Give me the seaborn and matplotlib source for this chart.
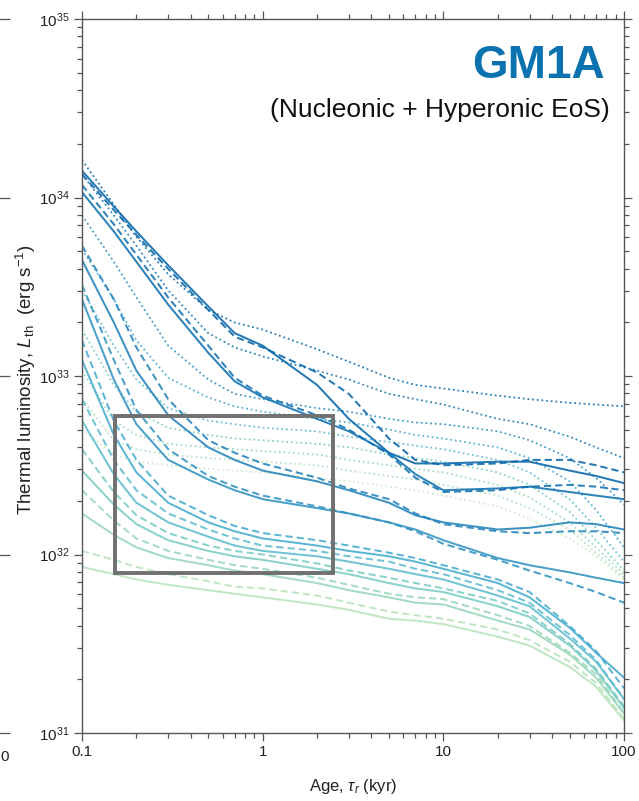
import matplotlib
matplotlib.use("Agg")
import matplotlib.pyplot as plt
import seaborn as sns
import pandas as pd
import numpy as np
from matplotlib.patches import Rectangle
from matplotlib.ticker import LogLocator, FuncFormatter, NullFormatter, NullLocator

# ---------------- data (log10 of thermal luminosity, erg/s) ----------------
ages = [0.1, 0.15, 0.2, 0.3, 0.5, 0.7, 1, 2, 3, 5, 7, 10, 20, 30, 50, 70, 100]

# solid curves (dark -> light)
solid_A = [34.15, 33.95, 33.81, 33.62, 33.39, 33.24, 33.17, 32.95, 32.76, 32.57, 32.51, 32.51, 32.52, 32.52, 32.47, 32.44, 32.40]
solid_B = [34.03, 33.81, 33.64, 33.40, 33.13, 32.97, 32.88, 32.76, 32.69, 32.57, 32.45, 32.36, 32.37, 32.38, 32.35, 32.33, 32.31]
solid_C = [33.65, 33.30, 33.03, 32.78, 32.60, 32.53, 32.47, 32.41, 32.36, 32.29, 32.22, 32.18, 32.14, 32.15, 32.18, 32.17, 32.14]
solid_D = [33.43, 32.98, 32.73, 32.53, 32.42, 32.36, 32.31, 32.26, 32.23, 32.18, 32.14, 32.08, 31.98, 31.94, 31.90, 31.87, 31.84]
solid_E = [33.09, 32.67, 32.46, 32.29, 32.18, 32.13, 32.09, 32.05, 32.02, 31.99, 31.96, 31.92, 31.84, 31.76, 31.59, 31.45, 31.31]
solid_F = [32.75, 32.45, 32.29, 32.18, 32.10, 32.05, 32.02, 31.99, 31.96, 31.92, 31.89, 31.86, 31.77, 31.71, 31.53, 31.40, 31.19]
solid_G = [32.47, 32.28, 32.17, 32.08, 32.02, 31.99, 31.97, 31.92, 31.89, 31.84, 31.81, 31.79, 31.71, 31.65, 31.49, 31.35, 31.14]
solid_H = [32.23, 32.11, 32.04, 31.98, 31.94, 31.91, 31.89, 31.84, 31.80, 31.76, 31.73, 31.72, 31.63, 31.58, 31.44, 31.31, 31.11]
solid_I = [31.93, 31.89, 31.86, 31.83, 31.80, 31.78, 31.76, 31.72, 31.69, 31.64, 31.63, 31.61, 31.54, 31.49, 31.37, 31.26, 31.07]

# dashed curves
dashed_A = [34.13, 33.93, 33.79, 33.60, 33.37, 33.22, 33.16, 33.02, 32.90, 32.65, 32.53, 32.50, 32.51, 32.53, 32.53, 32.50, 32.46]
dashed_B = [34.07, 33.85, 33.68, 33.44, 33.17, 32.99, 32.89, 32.78, 32.70, 32.56, 32.43, 32.35, 32.36, 32.38, 32.39, 32.38, 32.36]
dashed_C = [33.73, 33.43, 33.16, 32.87, 32.64, 32.57, 32.51, 32.43, 32.37, 32.31, 32.23, 32.17, 32.13, 32.12, 32.13, 32.13, 32.12]
dashed_D = [33.51, 33.09, 32.81, 32.59, 32.44, 32.38, 32.33, 32.27, 32.23, 32.18, 32.13, 32.06, 31.97, 31.91, 31.84, 31.79, 31.73]
dashed_E = [33.20, 32.75, 32.53, 32.33, 32.22, 32.16, 32.12, 32.08, 32.05, 32.01, 31.98, 31.94, 31.86, 31.79, 31.60, 31.46, 31.25]
dashed_F = [32.87, 32.53, 32.36, 32.23, 32.14, 32.09, 32.05, 32.02, 31.99, 31.96, 31.92, 31.89, 31.80, 31.73, 31.55, 31.41, 31.19]
dashed_G = [32.59, 32.35, 32.22, 32.12, 32.05, 32.02, 32.00, 31.95, 31.91, 31.87, 31.84, 31.81, 31.74, 31.67, 31.50, 31.36, 31.15]
dashed_H = [32.36, 32.19, 32.09, 32.02, 31.97, 31.94, 31.92, 31.87, 31.83, 31.78, 31.76, 31.75, 31.66, 31.60, 31.45, 31.33, 31.11]
dashed_I = [32.02, 31.97, 31.93, 31.89, 31.85, 31.82, 31.81, 31.77, 31.73, 31.68, 31.66, 31.64, 31.58, 31.52, 31.40, 31.28, 31.08]

# dotted curves
dotted_A = [34.21, 33.96, 33.78, 33.57, 33.37, 33.30, 33.26, 33.15, 33.08, 32.99, 32.95, 32.93, 32.89, 32.87, 32.85, 32.84, 32.83]
dotted_B = [34.13, 33.90, 33.73, 33.48, 33.24, 33.16, 33.11, 33.03, 32.98, 32.90, 32.87, 32.84, 32.76, 32.73, 32.66, 32.60, 32.54]
dotted_C = [33.90, 33.64, 33.44, 33.17, 32.98, 32.90, 32.87, 32.82, 32.80, 32.76, 32.74, 32.73, 32.69, 32.64, 32.54, 32.43, 32.28]
dotted_D = [33.71, 33.43, 33.20, 32.99, 32.88, 32.83, 32.80, 32.76, 32.74, 32.70, 32.67, 32.65, 32.60, 32.54, 32.41, 32.25, 32.04]
dotted_E = [33.48, 33.17, 32.98, 32.82, 32.75, 32.73, 32.71, 32.69, 32.66, 32.63, 32.61, 32.59, 32.53, 32.46, 32.31, 32.15, 31.96]
dotted_F = [33.26, 32.95, 32.80, 32.71, 32.67, 32.65, 32.64, 32.62, 32.60, 32.56, 32.54, 32.52, 32.46, 32.39, 32.24, 32.08, 31.91]
dotted_G = [33.03, 32.75, 32.67, 32.62, 32.60, 32.59, 32.58, 32.56, 32.53, 32.50, 32.48, 32.46, 32.39, 32.32, 32.18, 32.04, 31.89]
dotted_H = [32.87, 32.64, 32.59, 32.56, 32.54, 32.53, 32.52, 32.50, 32.47, 32.44, 32.42, 32.39, 32.33, 32.26, 32.14, 32.01, 31.87]
dotted_I = [32.70, 32.56, 32.52, 32.50, 32.48, 32.47, 32.46, 32.43, 32.41, 32.38, 32.36, 32.33, 32.27, 32.20, 32.09, 31.99, 31.86]

# colour position along GnBu for each curve family (dark -> light)
shades = {"A": 0.88, "B": 0.84, "C": 0.78, "D": 0.73, "E": 0.65,
          "F": 0.58, "G": 0.50, "H": 0.42, "I": 0.32}
dotted_shades = {"A": 0.86, "B": 0.82, "C": 0.74, "D": 0.66, "E": 0.58,
                 "F": 0.50, "G": 0.42, "H": 0.34, "I": 0.26}

# zoom box
box_age = [0.152, 2.45]
box_lum = [7.9e31, 6.0e32]

x_ticks_labels = ["0.1", "1", "10", "100"]

# ---------------- build table ----------------
families = {
    "solid": {"A": solid_A, "B": solid_B, "C": solid_C, "D": solid_D, "E": solid_E,
              "F": solid_F, "G": solid_G, "H": solid_H, "I": solid_I},
    "dashed": {"A": dashed_A, "B": dashed_B, "C": dashed_C, "D": dashed_D, "E": dashed_E,
               "F": dashed_F, "G": dashed_G, "H": dashed_H, "I": dashed_I},
    "dotted": {"A": dotted_A, "B": dotted_B, "C": dotted_C, "D": dotted_D, "E": dotted_E,
               "F": dotted_F, "G": dotted_G, "H": dotted_H, "I": dotted_I},
}

cmap = sns.color_palette("GnBu", as_cmap=True)
rows = []
palette = {}
for style, fam in families.items():
    for key, vals in fam.items():
        name = f"{style}_{key}"
        sh = dotted_shades[key] if style == "dotted" else shades[key]
        palette[name] = cmap(sh)
        for a, v in zip(ages, vals):
            rows.append({"curve": name, "style": style, "age": a, "L": 10.0 ** v})
df = pd.DataFrame(rows)

# ---------------- figure ----------------
sns.set_theme(style="ticks")
plt.rcParams["font.family"] = ["Liberation Sans", "DejaVu Sans"]
plt.rcParams["mathtext.fontset"] = "custom"
plt.rcParams["mathtext.rm"] = "Liberation Sans"
plt.rcParams["mathtext.it"] = "Liberation Sans:italic"
plt.rcParams["mathtext.bf"] = "Liberation Sans:bold"

fig = plt.figure(figsize=(6.39, 8.01), dpi=100)
ax = fig.add_axes([82 / 639, 68 / 801, 542 / 639, 714 / 801])
ax.set_xscale("log")
ax.set_yscale("log")

styles = [("dotted", (0, (1.0, 1.6)), 1.3),
          ("dashed", (0, (3.6, 2.0)), 1.45),
          ("solid", "-", 1.45)]
for style, ls, lw in styles:
    sub = df[df["style"] == style]
    pal = {k: v for k, v in palette.items() if k.startswith(style)}
    sns.lineplot(data=sub, x="age", y="L", hue="curve", palette=pal,
                 linestyle=ls, linewidth=lw, alpha=0.88, legend=False,
                 errorbar=None, sort=False, ax=ax)

ax.add_patch(Rectangle((box_age[0], box_lum[0]), box_age[1] - box_age[0],
                       box_lum[1] - box_lum[0], fill=False, ec="#707070",
                       lw=2.8, zorder=5))

ax.set_xlim(0.1, 100)
ax.set_ylim(1e31, 1e35)

ax.xaxis.set_major_locator(LogLocator(base=10, numticks=10))
ax.xaxis.set_major_formatter(FuncFormatter(
    lambda v, p: x_ticks_labels[int(round(np.log10(v))) + 1]
    if 0 <= int(round(np.log10(v))) + 1 < len(x_ticks_labels) else ""))
ax.xaxis.set_minor_locator(LogLocator(base=10, subs=np.arange(2, 10), numticks=30))
ax.xaxis.set_minor_formatter(NullFormatter())
ax.yaxis.set_major_locator(LogLocator(base=10, numticks=10))
ax.yaxis.set_major_formatter(FuncFormatter(
    lambda v, p: r"$\mathregular{10^{%d}}$" % int(round(np.log10(v)))))
ax.yaxis.set_minor_locator(LogLocator(base=10, subs=np.arange(2, 10), numticks=30))
ax.yaxis.set_minor_formatter(NullFormatter())

for s in ax.spines.values():
    s.set_color("#555555")
    s.set_linewidth(1.0)
ax.tick_params(which="both", direction="out", top=True, right=True,
               color="#555555", width=0.9)
ax.tick_params(which="major", length=6, labelsize=11, labelcolor="#222222", pad=3)
ax.tick_params(which="minor", length=3.5)

ax.set_xlabel(r"Age, $\tau_r$ (kyr)", fontsize=12, color="#222222")
ax.xaxis.set_label_coords(0.5, -0.062)
ax.set_ylabel(r"Thermal luminosity, $\mathbf{\mathit{L}}_{\rm th}$  (erg s$^{-1}$)",
              fontsize=13.5, color="#222222")
ax.yaxis.set_label_coords(-0.082, 0.495)

ax.text(0.965, 0.917, "GM1A", transform=ax.transAxes, ha="right",
        va="baseline", fontsize=33, fontweight="bold", color="#0b72b0")
ax.text(0.974, 0.863, "(Nucleonic + Hyperonic EoS)", transform=ax.transAxes,
        ha="right", va="baseline", fontsize=19, color="#111111")

# remnant of neighbouring panel at the left edge
axl = fig.add_axes([-1.0, 68 / 801, 1.0 + 10 / 639, 714 / 801])
axl.set_yscale("log")
axl.set_ylim(1e31, 1e35)
for s in axl.spines.values():
    s.set_visible(False)
axl.set_xticks([])
axl.yaxis.set_major_locator(LogLocator(base=10, numticks=10))
axl.yaxis.set_minor_locator(NullLocator())
axl.tick_params(axis="y", left=False, right=True, labelleft=False,
                direction="in", length=8, color="#555555", width=0.9)
axl.patch.set_alpha(0)
fig.text(9 / 639, 1 - 757 / 801, "0", ha="right", va="center",
         fontsize=11, color="#222222")

fig.savefig("out.png", dpi=100)
